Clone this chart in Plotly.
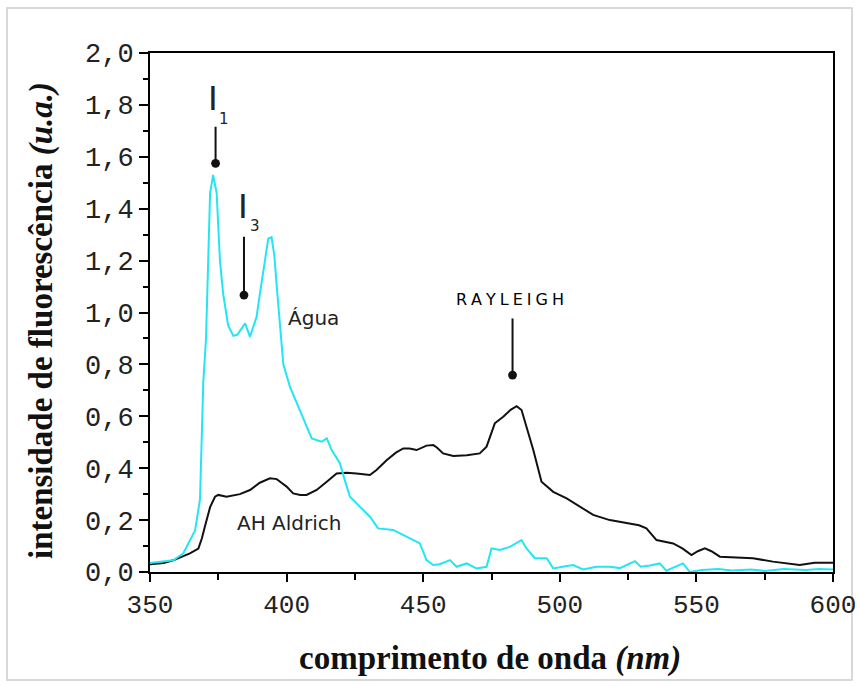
import plotly.graph_objects as go

# Emission spectra: wavelength (nm) and fluorescence intensity (a.u.)
agua_nm = [350, 355, 358.5, 362.2, 366.5, 368.3, 369.5, 370.5, 371.3, 372, 373.1, 374.4,
           375.6, 376.8, 378.6, 380.5, 382, 383.5, 384.8, 386.6, 389, 390.2, 392, 393.3,
           394.5, 395.5, 396.4, 397.6, 398.8, 401.2, 403.7, 407.3, 409.2, 412.8, 414.7,
           416.5, 419.5, 421.3, 423.2, 426.8, 430.5, 433.5, 439, 443.9, 448.8, 451.2,
           453.7, 456, 459.8, 462.2, 465.9, 469.5, 473.2, 475, 478.1, 481.7, 486, 487.8,
           490.9, 495.2, 497.6, 501, 504.9, 508.5, 513.4, 518.3, 522, 527.5, 529.6, 533,
           536.6, 539, 545.1, 547.6, 552, 558, 563, 570, 575, 582, 590, 595, 600]
agua_int = [0.035, 0.04, 0.045, 0.072, 0.16, 0.28, 0.73, 0.9, 1.2, 1.46, 1.53, 1.46,
            1.2, 1.07, 0.95, 0.91, 0.915, 0.94, 0.958, 0.906, 0.983, 1.07, 1.2, 1.285,
            1.29, 1.22, 1.1, 0.945, 0.8, 0.714, 0.65, 0.56, 0.515, 0.502, 0.515,
            0.47, 0.419, 0.354, 0.29, 0.252, 0.213, 0.168, 0.162, 0.136, 0.11, 0.046,
            0.027, 0.03, 0.046, 0.02, 0.033, 0.014, 0.02, 0.091, 0.085, 0.097, 0.123, 0.091,
            0.053, 0.053, 0.014, 0.02, 0.027, 0.01, 0.02, 0.02, 0.015, 0.042, 0.02, 0.025,
            0.033, 0.005, 0.033, 0.0, 0.008, 0.012, 0.006, 0.01, 0.004, 0.012, 0.008, 0.012, 0.01]

aldrich_nm = [350, 355, 358.5, 362, 364.6, 367.7, 369, 370.1, 372, 373.8, 375, 378, 380,
              382.9, 386.6, 390.2, 393.9, 396.4, 398, 400, 402.4, 405, 407.3, 411, 414.7,
              418.3, 422, 425.6, 430.5, 432.9, 436.6, 440, 442.7, 445, 447.6, 451.2, 453.7,
              455, 457.3, 461, 466, 470.7, 473.2, 476.2, 479.3, 482, 484.2, 486, 487.8,
              490.3, 493.3, 497.6, 502.5, 507.3, 512.2, 518.3, 525.6, 529, 531.7, 535.4,
              541.5, 545, 548.2, 550.5, 553.1, 555.5, 558.6, 570.7, 578, 587.8, 593.3, 600]
aldrich_int = [0.03, 0.035, 0.045, 0.06, 0.072, 0.09, 0.13, 0.175, 0.25, 0.29, 0.297, 0.29, 0.295,
               0.3, 0.316, 0.344, 0.361, 0.358, 0.345, 0.329, 0.303, 0.297, 0.297, 0.316, 0.348,
               0.38, 0.382, 0.38, 0.374, 0.393, 0.431, 0.46, 0.476, 0.476, 0.47, 0.487, 0.489,
               0.48, 0.457, 0.447, 0.45, 0.457, 0.483, 0.573, 0.598, 0.625, 0.639, 0.624, 0.56,
               0.47, 0.348, 0.309, 0.284, 0.252, 0.22, 0.2, 0.188, 0.18, 0.168, 0.123,
               0.11, 0.09, 0.065, 0.08, 0.091, 0.08, 0.059, 0.053, 0.04, 0.027, 0.036, 0.036]

x_ticks = [350, 400, 450, 500, 550, 600]
y_ticks = [0.0, 0.2, 0.4, 0.6, 0.8, 1.0, 1.2, 1.4, 1.6, 1.8, 2.0]

W, H = 860, 686
ML, MR, MT, MB = 150, 27, 53, 114
PW, PH = W - ML - MR, H - MT - MB


def px(xp):
    return (xp - ML) / PW


def py(yp):
    return (H - MB - yp) / PH


fig = go.Figure()
fig.add_trace(go.Scatter(x=aldrich_nm, y=aldrich_int, mode="lines",
                         line=dict(color="#111111", width=2), name="AH Aldrich"))
fig.add_trace(go.Scatter(x=agua_nm, y=agua_int, mode="lines",
                         line=dict(color="#22e6f2", width=2), name="Água"))

label_font = dict(family="DejaVu Sans", size=20, color="#222222")
sp = "\u2005"
annotations = [
    dict(x=410, y=0.98, text="Água", font=label_font),
    dict(x=401, y=0.19, text="AH Aldrich", font=label_font),
    dict(x=481.7, y=1.05, text=sp.join("RAYLEIGH"),
         font=dict(family="DejaVu Sans", size=16, color="#000000")),
    # I1 / I3 markers
    dict(x=373.05, y=1.828, text="I", font=dict(family="Liberation Sans", size=35, color="#222222")),
    dict(x=377.2, y=1.745, text="1", font=dict(family="DejaVu Sans", size=15, color="#222222")),
    dict(x=384.1, y=1.414, text="I", font=dict(family="Liberation Sans", size=35, color="#222222")),
    dict(x=388.3, y=1.333, text="3", font=dict(family="DejaVu Sans", size=15, color="#222222")),
]
for a in annotations:
    a.update(xref="x", yref="y", showarrow=False, xanchor="center", yanchor="middle")

# arrows: tail (data) -> tip (data)
i1_idx = agua_int.index(max(agua_int))
ray_idx = aldrich_int.index(max(aldrich_int))
arrows = [
    (agua_nm[i1_idx] + 0.9, 1.722, agua_nm[i1_idx] + 0.9, agua_int[i1_idx] + 0.045),
    (384.4, 1.298, 384.4, 1.067),
    (aldrich_nm[ray_idx] - 1.5, 0.983, aldrich_nm[ray_idx] - 1.5, aldrich_int[ray_idx] + 0.12),
]
for tx, ty, hx, hy in arrows:
    annotations.append(dict(x=hx, y=hy, ax=tx, ay=ty, xref="x", yref="y", axref="x", ayref="y",
                            text="", showarrow=True, arrowhead=6, arrowsize=1.1,
                            arrowwidth=2, arrowcolor="#111111", standoff=0))

# axis titles
title_font = dict(family="Liberation Serif", size=33, color="#111111")
annotations.append(dict(x=px(490), y=py(658), xref="paper", yref="paper", showarrow=False,
                        xanchor="center", yanchor="middle",
                        text="<b>comprimento de onda <i>(nm)</i></b>", font=title_font))
annotations.append(dict(x=px(41), y=py(321), xref="paper", yref="paper", showarrow=False,
                        xanchor="center", yanchor="middle", textangle=-90,
                        text="<b>intensidade de fluorescência <i>(u.a.)</i></b>", font=title_font))

fig.update_layout(
    width=W, height=H,
    margin=dict(l=ML, r=MR, t=MT, b=MB, pad=0, autoexpand=False),
    paper_bgcolor="white", plot_bgcolor="white",
    showlegend=False,
    separators=", ",
    annotations=annotations,
    shapes=[dict(type="rect", xref="paper", yref="paper",
                 x0=px(7), x1=px(852), y0=py(680), y1=py(8),
                 line=dict(color="#cccccc", width=1.5), layer="below")],
)
fig.update_xaxes(range=[350, 600], tickvals=x_ticks, showgrid=False, zeroline=False,
                 showline=True, linecolor="black", linewidth=2, mirror=True,
                 ticks="outside", ticklen=8, tickwidth=2, tickcolor="black",
                 ticklabeloverflow="allow",
                 minor=dict(dtick=25, tick0=350, ticks="outside", ticklen=6, tickwidth=2,
                            tickcolor="black"),
                 tickfont=dict(family="Liberation Mono", size=26, color="#222222"))
fig.update_yaxes(range=[0, 2.0], tickvals=y_ticks, tickformat=".1f", showgrid=False,
                 zeroline=False, showline=True, linecolor="black", linewidth=2, mirror=True,
                 ticks="outside", ticklen=9, tickwidth=2, tickcolor="black",
                 ticklabeloverflow="allow",
                 minor=dict(dtick=0.1, tick0=0, ticks="outside", ticklen=5, tickwidth=2,
                            tickcolor="black"),
                 tickfont=dict(family="Liberation Mono", size=27, color="#222222"))

fig.write_html("out.html", post_script="document.body.style.margin='0';")
